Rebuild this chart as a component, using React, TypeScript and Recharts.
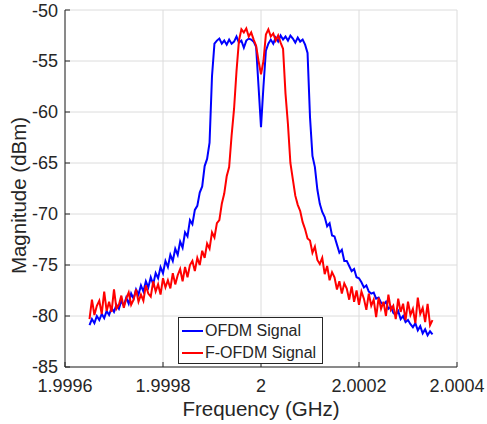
import React from "react";
import { LineChart, Line, XAxis, YAxis, CartesianGrid, Legend } from "recharts";

// frequency offset from the 2 GHz carrier, in kHz
const freqKHz = [
  -350, -345, -340, -335, -330, -325, -320, -315, -310, -305,
  -300, -295, -290, -285, -280, -275, -270, -265, -260, -255,
  -250, -245, -240, -235, -230, -225, -220, -215, -210, -205,
  -200, -195, -190, -185, -180, -175, -170, -165, -160, -155,
  -150, -145, -140, -135, -130, -125, -120, -115, -110, -105,
  -100, -95, -90, -85, -80, -75, -70, -65, -60, -55,
  -50, -45, -40, -35, -30, -25, -20, -15, -10, -5,
  0, 5, 10, 15, 20, 25, 30, 35, 40, 45,
  50, 55, 60, 65, 70, 75, 80, 85, 90, 95,
  100, 105, 110, 115, 120, 125, 130, 135, 140, 145,
  150, 155, 160, 165, 170, 175, 180, 185, 190, 195,
  200, 205, 210, 215, 220, 225, 230, 235, 240, 245,
  250, 255, 260, 265, 270, 275, 280, 285, 290, 295,
  300, 305, 310, 315, 320, 325, 330, 335, 340, 345,
  350,
];

// OFDM spectrum, dBm
const ofdmDbm = [
  -80.9, -80.3, -80.7, -80.0, -80.4, -79.8, -80.2, -79.5, -79.9, -79.2,
  -79.6, -78.9, -79.3, -78.5, -79.0, -78.2, -78.8, -77.8, -78.3, -77.4,
  -77.9, -77.0, -77.6, -76.6, -77.2, -76.2, -76.9, -75.8, -76.3, -75.2,
  -75.8, -74.6, -75.2, -74.0, -74.6, -73.4, -74.0, -72.7, -73.3, -71.8,
  -72.2, -70.6, -71.0, -69.6, -69.2, -67.9, -67.3, -65.3, -64.6, -63.0,
  -56.5, -53.3, -53.0, -52.8, -53.3, -53.0, -53.4, -52.9, -53.3, -53.1,
  -52.6, -53.2, -53.0, -53.7, -53.0, -52.8, -52.9, -53.1, -53.6, -57.5,
  -61.5, -57.5, -54.0, -53.3, -52.9, -53.3, -52.7, -53.1, -52.5, -52.9,
  -52.6, -53.0, -52.5, -52.8, -53.2, -52.7, -53.1, -52.9, -53.4, -54.2,
  -60.5, -64.3, -65.4, -67.6, -69.0, -69.8, -70.3, -71.2, -70.9, -72.1,
  -72.2, -73.0, -73.8, -73.5, -74.6, -74.6, -75.1, -75.6, -75.4, -76.2,
  -76.3, -76.7, -77.2, -77.0, -77.6, -77.8, -77.7, -78.3, -78.2, -78.7,
  -78.9, -78.6, -79.3, -79.1, -79.7, -79.9, -79.5, -80.3, -80.0, -80.6,
  -80.4, -80.8, -81.1, -80.7, -81.4, -81.0, -81.7, -81.3, -81.9, -81.5,
  -81.8,
];

// F-OFDM spectrum, dBm
const fofdmDbm = [
  -80.3, -78.4, -79.9, -79.0, -78.5, -79.8, -77.6, -79.5, -78.6, -79.6,
  -77.4, -79.3, -78.9, -78.0, -79.2, -78.3, -77.7, -78.9, -78.4, -77.4,
  -78.6, -77.9, -78.5, -77.0, -77.8, -78.1, -76.6, -77.6, -76.9, -77.9,
  -76.3, -77.2, -76.5, -77.3, -75.8, -76.9, -76.0, -75.4, -76.6, -75.2,
  -76.2, -75.0, -74.6, -75.6, -74.3, -75.0, -73.6, -74.3, -72.9, -73.4,
  -71.8, -72.3, -70.9, -70.6, -69.0, -68.0, -66.3, -65.4, -62.3, -59.7,
  -56.0, -53.0, -51.9, -52.2, -51.8, -52.6, -52.2, -52.9, -53.5, -55.0,
  -56.3, -55.0, -52.4, -51.9, -52.6, -52.3, -53.0, -52.5, -53.2, -53.8,
  -58.2, -61.2, -65.0, -66.6, -68.2, -69.1, -69.7, -70.8, -71.5, -72.4,
  -72.6, -73.8, -73.2, -74.5, -74.9, -74.3, -75.9, -75.1, -76.5, -75.7,
  -76.2, -77.4, -76.6, -77.8, -76.8, -77.3, -78.4, -77.1, -78.6, -77.5,
  -78.9, -77.6, -78.3, -79.4, -77.8, -79.0, -78.4, -80.1, -78.2, -79.3,
  -78.6, -80.0, -77.9, -79.4, -79.0, -80.3, -78.3, -79.6, -78.8, -80.4,
  -78.6, -79.9, -79.3, -80.7, -78.2, -79.8, -79.2, -80.6, -78.8, -80.9,
  -80.4,
];

const freqTicks = [1.9996, 1.9998, 2, 2.0002, 2.0004];
const magTicks = [-85, -80, -75, -70, -65, -60, -55, -50];

const seriesInfo = [
  { key: "ofdm", name: "OFDM Signal", color: "#0000ff" },
  { key: "fofdm", name: "F-OFDM Signal", color: "#ff0000" },
];

const data = freqKHz.map((k, i) => ({
  freq: 2 + k / 1e6,
  ofdm: ofdmDbm[i],
  fofdm: fofdmDbm[i],
}));

const FONT = '"Liberation Sans", Arial, Helvetica, sans-serif';
const INK = "#262626";

const fmtFreq = (v: number) => String(parseFloat(v.toFixed(4)));

const LegendBox = () => (
  <div style={{
    width: 145, height: 47, boxSizing: "border-box",
    border: `1px solid ${INK}`, background: "#fff",
    fontFamily: FONT, fontSize: 16, color: INK, paddingTop: 2,
  }}>
    {seriesInfo.map(s => (
      <div key={s.key} style={{ display: "flex", alignItems: "center", height: 22 }}>
        <span style={{ width: 21, height: 2, background: s.color, marginLeft: 3, marginRight: 2 }} />
        <span style={{ lineHeight: "22px" }}>{s.name}</span>
      </div>
    ))}
  </div>
);

export default function App() {
  const tickStyle = { fontSize: 18, fill: INK, fontFamily: FONT };
  return (
    <div style={{ position: "absolute", left: 0, top: 0, background: "#fff" }}>
      <LineChart width={487} height={424} data={data} margin={{ top: 10, right: 30, bottom: 0, left: 0 }}>
        <CartesianGrid stroke="#dcdcdc" strokeWidth={1} />
        <XAxis
          dataKey="freq" type="number" domain={[1.9996, 2.0004]} ticks={freqTicks}
          tickFormatter={fmtFreq} height={57} tickSize={-5} tickMargin={17}
          stroke={INK} tick={tickStyle}
          label={{
            content: (p: any) => {
              const vb = p.viewBox;
              return (
                <text x={vb.x + vb.width / 2} y={vb.y + vb.height - 8} textAnchor="middle"
                  fontSize={20.5} fontFamily={FONT} fill={INK}>Frequency (GHz)</text>
              );
            },
          }}
        />
        <XAxis xAxisId="top" orientation="top" type="number" dataKey="freq" domain={[1.9996, 2.0004]}
          ticks={freqTicks} height={0} tickSize={-5} tick={false} stroke={INK} />
        <YAxis
          type="number" domain={[-85, -50]} ticks={magTicks} width={65}
          tickSize={-5} tickMargin={12} stroke={INK} tick={tickStyle}
          label={{
            content: (p: any) => {
              const vb = p.viewBox;
              const cy = vb.y + vb.height / 2 + 7;
              return (
                <text x={0} y={0} transform={`translate(26, ${cy}) rotate(-90)`} textAnchor="middle"
                  fontSize={20.5} fontFamily={FONT} fill={INK}>Magnitude (dBm)</text>
              );
            },
          }}
        />
        <YAxis yAxisId="right" orientation="right" type="number" domain={[-85, -50]} ticks={magTicks}
          width={0} tickSize={-5} tick={false} stroke={INK} />
        {seriesInfo.map(s => (
          <Line key={s.key} dataKey={s.key} name={s.name} stroke={s.color} strokeWidth={2}
            dot={false} activeDot={false} isAnimationActive={false} type="linear" />
        ))}
        <Legend layout="horizontal" verticalAlign="middle" align="center"
          wrapperStyle={{ left: 178, top: 317, width: 145 }} content={() => <LegendBox />} />
      </LineChart>
    </div>
  );
}
